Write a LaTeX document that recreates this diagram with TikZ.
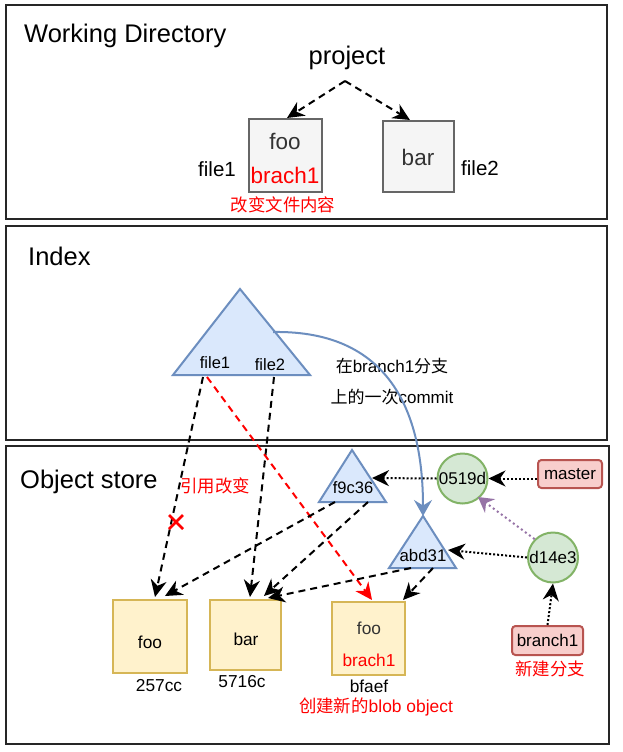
\documentclass[tikz,border=0pt]{standalone}
\usepackage{fontspec}
\setmainfont{Liberation Sans}
\newfontfamily\cjk{Noto Sans CJK SC}
\usetikzlibrary{arrows.meta}
\definecolor{wfill}{HTML}{F5F5F5}
\definecolor{wdraw}{HTML}{666666}
\definecolor{tfill}{HTML}{DAE8FC}
\definecolor{tdraw}{HTML}{6C8EBF}
\definecolor{cfill}{HTML}{D5E8D4}
\definecolor{cdraw}{HTML}{82B366}
\definecolor{rfill}{HTML}{F8CECC}
\definecolor{rdraw}{HTML}{B85450}
\definecolor{yfill}{HTML}{FFF2CC}
\definecolor{ydraw}{HTML}{D6B656}
\definecolor{purp}{HTML}{9673A6}
\definecolor{redt}{HTML}{FF0000}
\begin{document}
\begin{tikzpicture}[x=1pt,y=-1pt,
  panel/.style={draw=black!85, line width=2pt},
  title/.style={anchor=west, inner sep=0pt, font=\fontsize{25.5}{30}\selectfont},
  lbl/.style={inner sep=0pt, font=\fontsize{22.5}{26}\selectfont},
  osl/.style={inner sep=0pt, font=\fontsize{17.3}{20}\selectfont},
  note/.style={inner sep=0pt, text=redt, font=\fontsize{17.4}{20}\selectfont},
  wbox/.style={draw=wdraw, fill=wfill, line width=2pt, minimum width=73pt, minimum height=73pt},
  blob/.style={draw=ydraw, fill=yfill, line width=2pt},
  tri/.style={draw=tdraw, fill=tfill, line width=2pt, line join=miter},
  commit/.style={circle, draw=cdraw, fill=cfill, line width=2pt, minimum size=50pt, inner sep=0pt, font=\fontsize{17}{20}\selectfont},
  ref/.style={draw=rdraw, fill=rfill, line width=2pt, rounded corners=3.5pt, inner sep=0pt, font=\fontsize{17}{20}\selectfont},
  tip/.style={-{Stealth[length=17pt,width=16pt,inset=5.5pt]}},
  dashar/.style={draw=black, line width=2pt, dash pattern=on 7pt off 5pt, tip},
  redar/.style={draw=redt, line width=2pt, dash pattern=on 7pt off 5pt, tip},
  dotar/.style={draw=black, line width=2pt, dash pattern=on 2pt off 2pt, tip},
  purar/.style={draw=purp, line width=2pt, dash pattern=on 2pt off 3pt, -{Stealth[length=15pt,width=17pt,inset=5pt,fill=purp]}},
  bluear/.style={draw=tdraw, line width=2pt, -{Stealth[length=16pt,width=18pt,inset=5.5pt]}}
]
\useasboundingbox (0,0) rectangle (622,752);
\fill[white] (0,0) rectangle (622,752);

% panels
\draw[panel] (6,5) rectangle (607,219);
\draw[panel] (6,226) rectangle (607,440);
\draw[panel] (6,446) rectangle (609,744);
\node[title] (twd) at (24,36) {Working Directory};
\node[title] (tidx) at (28,256) {Index};
\node[title] (tobj) at (20,482) {Object store};

% working directory
\node[inner sep=0pt, font=\fontsize{25.5}{30}\selectfont] (proj) at (347,58) {project};
\coordinate (projb) at (345,81);
\node[wbox] (wfoo) at (285.5,155.5) {};
\node[lbl, text=black!80] (wfoot) at (285,141) {foo};
\node[lbl, text=redt] (wfoob) at (285,175) {brach1};
\node[wbox, minimum width=71pt, minimum height=71pt] (wbar) at (418.5,156.5) {};
\node[lbl, text=black!80] (wbart) at (418,157) {bar};
\node[lbl, font=\fontsize{20.5}{24}\selectfont] (f1) at (217,169) {file1};
\node[lbl, font=\fontsize{20.5}{24}\selectfont] (f2) at (480,168) {file2};
\node[note] (n1) at (283,205) {\cjk 改变文件内容};
\coordinate (wfooin) at (287,118);
\coordinate (wbarin) at (410,120);
\draw[dashar] (projb) -- (wfooin);
\draw[dashar] (projb) -- (wbarin);

% index tree
\coordinate (ia) at (240,289);
\coordinate (il) at (173,375);
\coordinate (ir) at (310,375);
\draw[tri] (ia) -- (ir) -- (il) -- cycle;
\node[osl, font=\fontsize{16.5}{20}\selectfont] (if1) at (215,363) {file1};
\node[osl, font=\fontsize{16.5}{20}\selectfont] (if2) at (270,365) {file2};
\coordinate (if1b) at (203,377);
\coordinate (if1r) at (207,377);
\coordinate (if2b) at (274,377);
\coordinate (ibr) at (273,332);
\node[osl, font=\fontsize{17}{20}\selectfont] (c1) at (392,366) {{\cjk 在}branch1{\cjk 分支}};
\node[osl, font=\fontsize{17}{20}\selectfont] (c2) at (392,397) {{\cjk 上的一次}commit};

% object store: trees
\coordinate (fa) at (352,450);
\coordinate (fl) at (319,502);
\coordinate (fr) at (386,502);
\draw[tri] (fa) -- (fr) -- (fl) -- cycle;
\node[osl, font=\fontsize{16.5}{20}\selectfont] (ft) at (353,488) {f9c36};
\coordinate (aa) at (423,516);
\coordinate (al) at (389,568);
\coordinate (ar) at (456,568);
\draw[tri] (aa) -- (ar) -- (al) -- cycle;
\node[osl, font=\fontsize{16.8}{20}\selectfont] (at) at (423,555) {abd31};

% commits and refs
\node[commit] (c0519) at (462.5,478.5) {0519d};
\node[commit] (cd14) at (553,557.5) {d14e3};
\node[ref, minimum width=64pt, minimum height=28pt] (master) at (570,474) {master};
\node[ref, minimum width=71pt, minimum height=29pt] (br1) at (547.5,640.5) {branch1};
\node[note] (n4) at (550,669) {\cjk 新建分支};

% blobs
\node[blob, minimum width=74pt, minimum height=73pt] (b1) at (150,636.5) {};
\node[osl] (b1t) at (150,642) {foo};
\node[osl] (b1h) at (159,686) {257cc};
\node[blob, minimum width=71pt, minimum height=70pt] (b2) at (245.5,635) {};
\node[osl] (b2t) at (246,639) {bar};
\node[osl] (b2h) at (242,682) {5716c};
\node[blob, minimum width=73pt, minimum height=73pt] (b3) at (368.5,638.5) {};
\node[osl, text=black!80] (b3t) at (369,628) {foo};
\node[osl, text=redt] (b3b) at (369,660) {brach1};
\node[osl] (b3h) at (369,686) {bfaef};
\node[note] (n3) at (376,707) {{\cjk 创建新的}blob object};
\node[note] (n2) at (215,486) {\cjk 引用改变};

% connector end points on blobs
\coordinate (b1a) at (155,597);
\coordinate (b1b) at (165,596);
\coordinate (b2a) at (250,597);
\coordinate (b2b) at (264,596);
\coordinate (b2c) at (268,598);
\coordinate (b3a) at (372,600);
\coordinate (b3b2) at (403,600);

% index connectors
\draw[dashar] (if1b) -- (b1a);
\draw[dashar] (if2b) -- (b2a);
\draw[redar] (if1r) -- (b3a);
\draw[bluear] (ibr) .. controls (395,330) and (423,420) .. (aa);
% red cross
\draw[redt, line width=2.5pt] (169,515) -- (183,529) (183,515) -- (169,529);

% tree connectors
\coordinate (fbl) at (335,502);
\coordinate (fbr) at (368,502);
\coordinate (abl) at (411,568);
\coordinate (abr) at (433,568);
\draw[dashar] (fbl) -- (b1b);
\draw[dashar] (fbr) -- (b2b);
\draw[dashar] (abl) -- (b2c);
\draw[dashar] (abr) -- (b3b2);

% commit connectors
\coordinate (fin) at (372,478);
\coordinate (ain) at (448,550);
\coordinate (cin) at (478,497);
\draw[dotar] (c0519.west) -- (fin);
\draw[dotar] (master.west |- c0519.east) -- (c0519.east);
\draw[dotar] (cd14.west) -- (ain);
\draw[purar] (cd14.north west) -- (cin);
\draw[dotar] (br1.north) -- (cd14.south);
\end{tikzpicture}
\end{document}
